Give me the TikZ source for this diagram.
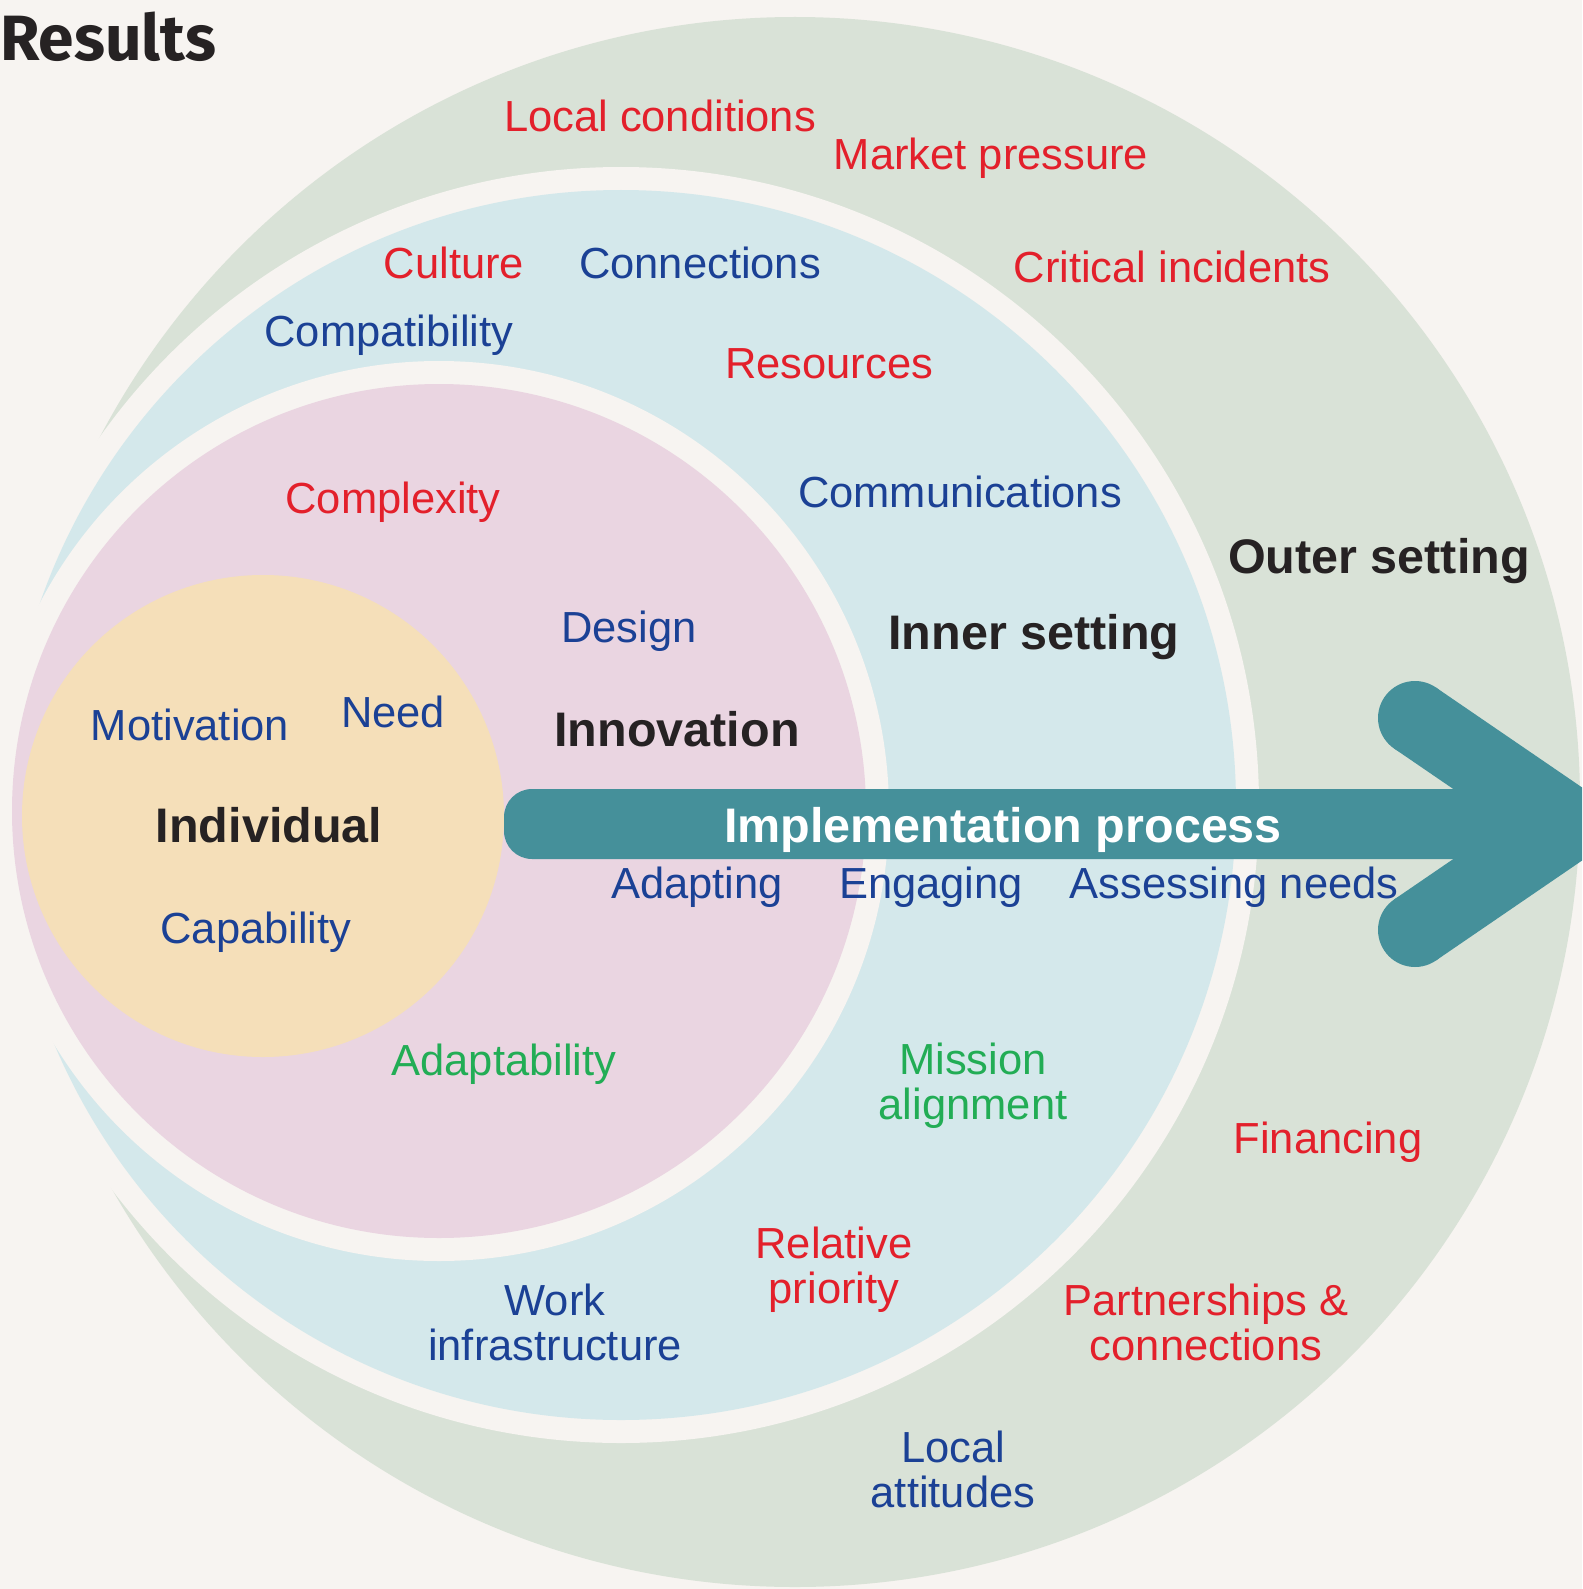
\documentclass[tikz,border=0pt]{standalone}
\usepackage{fontspec}
\setmainfont{Liberation Sans}
\newfontfamily\titlefont{Fira Sans}
\definecolor{bgc}{HTML}{F7F4F1}
\definecolor{outerc}{HTML}{D9E2D7}
\definecolor{innerc}{HTML}{D4E8EB}
\definecolor{innovc}{HTML}{EAD5E1}
\definecolor{indivc}{HTML}{F5DFB9}
\definecolor{tealc}{HTML}{45909A}
\definecolor{redt}{HTML}{E3202B}
\definecolor{bluet}{HTML}{1B4195}
\definecolor{greent}{HTML}{22AD55}
\definecolor{darkt}{HTML}{262223}
\begin{document}
\begin{tikzpicture}[x=1pt,y=-1pt,
  lbl/.style={font=\fontsize{43.5}{44.6}\selectfont, inner sep=0pt, anchor=base, align=center},
  rlbl/.style={lbl, text=redt},
  blbl/.style={lbl, text=bluet},
  glbl/.style={lbl, text=greent},
  hlbl/.style={font=\fontsize{48.5}{50}\selectfont\bfseries, inner sep=0pt, anchor=base, text=darkt}]
\useasboundingbox (0,0) rectangle (1582,1589);
\clip (0,0) rectangle (1582,1589);
\fill[bgc] (0,0) rectangle (1582,1589);
% circles
\fill[outerc] (795,802) circle[radius=785pt];
\fill[bgc] (621,805) circle[radius=638pt];
\fill[innerc] (621,805) circle[radius=615pt];
\fill[bgc] (439,811) circle[radius=450pt];
\fill[innovc] (439,811) circle[radius=427pt];
\fill[indivc] (263,816) circle[radius=241pt];
% arrow
\fill[tealc, rounded corners=28pt] (504,789) rectangle (1500,859);
\fill[tealc] (1450,789) rectangle (1530,859);
\coordinate (armA) at (1415,718);
\coordinate (armB) at (1415,930);
\fill[tealc] (1435.9,687.5) -- (1635.5,824) -- (1435.9,960.5) -- (1394.1,899.5)
  -- (1504.5,824) -- (1394.1,748.5) -- cycle;
\fill[tealc] (armA) circle[radius=37pt];
\fill[tealc] (armB) circle[radius=37pt];
% title
\node[font=\titlefont\fontsize{64}{66}\selectfont\bfseries, text=darkt, inner sep=0pt, anchor=base west] (title) at (0,61) {Results};
% labels
\node[rlbl] (loccond) at (660,132) {Local conditions};
\node[rlbl] (market) at (991,170) {Market pressure};
\node[rlbl] (culture) at (454,278) {Culture};
\node[blbl] (connections) at (700,278) {Connections};
\node[rlbl] (critical) at (1172,282) {Critical incidents};
\node[blbl] (compat) at (389,346) {Compatibility};
\node[rlbl] (resources) at (829,378) {Resources};
\node[rlbl] (complexity) at (393,513) {Complexity};
\node[blbl] (communications) at (960,507) {Communications};
\node[hlbl] (outer) at (1379,573) {Outer setting};
\node[blbl] (design) at (629,642) {Design};
\node[hlbl] (inner) at (1034,649) {Inner setting};
\node[blbl] (motivation) at (190,740) {Motivation};
\node[blbl] (need) at (393,727) {Need};
\node[hlbl] (innovation) at (677,746) {Innovation};
\node[hlbl] (individual) at (269,842) {Individual};
\node[hlbl, text=white] (implementation) at (1003,842) {Implementation process};
\node[blbl] (adapting) at (697,898) {Adapting};
\node[blbl] (engaging) at (931,898) {Engaging};
\node[blbl] (assessing) at (1234,898) {Assessing needs};
\node[blbl] (capability) at (256,943) {Capability};
\node[glbl] (adaptability) at (504,1075) {Adaptability};
\node[glbl] (mission) at (973,1119) {Mission\\alignment};
\node[rlbl] (financing) at (1328,1153) {Financing};
\node[rlbl] (relative) at (834,1303) {Relative\\priority};
\node[blbl] (work) at (555,1360) {Work\\infrastructure};
\node[rlbl] (partner) at (1206,1360) {Partnerships \&\\connections};
\node[blbl] (localatt) at (953,1507) {Local\\attitudes};
\end{tikzpicture}
\end{document}
